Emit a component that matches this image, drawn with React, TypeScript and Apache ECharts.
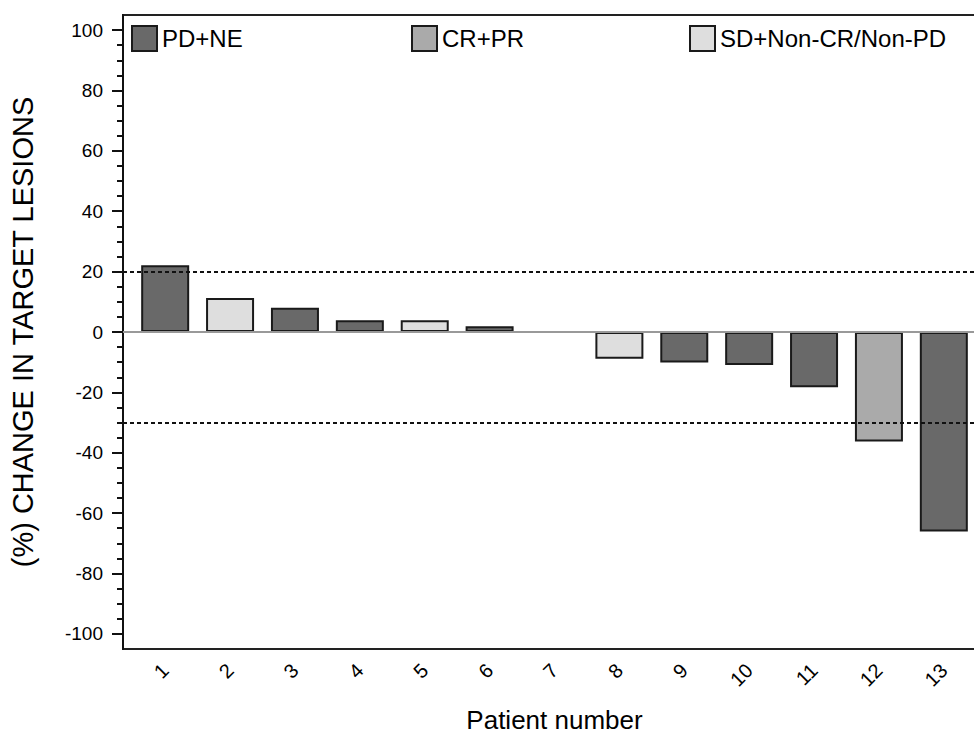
import React, { useEffect, useRef } from "react";
import * as echarts from "echarts";

const patients = [1, 2, 3, 4, 5, 6, 7, 8, 9, 10, 11, 12, 13];
const pdNe = [22.1, null, 8.0, 3.9, null, 1.9, 0, null, -10.1, -10.9, -18.3, null, -66.1];
const crPr = [null, null, null, null, null, null, null, null, null, null, null, -36.3, null];
const sdNon = [null, 11.3, null, null, 3.9, null, null, -8.9, null, null, null, null, null];
const majorTicks = [-100, -80, -60, -40, -20, 0, 20, 40, 60, 80, 100];
const minorStep = 5;
const refLines = [20, -30];
const zeroLine = 0;

const FONT = "'Liberation Sans', Arial, sans-serif";

export default function App() {
  const ref = useRef<HTMLDivElement>(null);
  useEffect(() => {
    if (!ref.current) return;
    const chart = echarts.init(ref.current, undefined, { renderer: "svg" });
    const minorTicks: number[] = [];
    for (let v = majorTicks[0]; v <= majorTicks[majorTicks.length - 1]; v += minorStep) minorTicks.push(v);
    const toData = (arr: (number | null)[]) => patients.map((p, i) => [p, arr[i]]);
    const legendBase = {
      top: 25,
      itemWidth: 25,
      itemHeight: 25,
      padding: 0,
      icon: "rect",
      selectedMode: false,
      textStyle: { fontSize: 24, color: "#000", fontFamily: FONT },
    };
    const barBorder = { borderColor: "#1a1a1a", borderWidth: 2 };
    chart.setOption({
      animation: false,
      backgroundColor: "#fff",
      textStyle: { fontFamily: FONT },
      legend: [
        { ...legendBase, left: 131, data: ["PD+NE"] },
        { ...legendBase, left: 411, data: ["CR+PR"] },
        { ...legendBase, left: 689, data: ["SD+Non-CR/Non-PD"] },
      ],
      grid: {
        left: 123,
        top: 15,
        width: 863,
        height: 634,
        show: true,
        borderColor: "#222",
        borderWidth: 2,
        backgroundColor: "transparent",
        containLabel: false,
        outerBoundsMode: "none",
      },
      xAxis: {
        type: "value",
        min: 0.35,
        max: 13.65,
        axisLine: { show: false },
        axisTick: { show: false },
        splitLine: { show: false },
        axisLabel: {
          customValues: patients,
          rotate: 45,
          margin: 18,
          fontSize: 20,
          color: "#000",
          fontFamily: FONT,
          hideOverlap: false,
          formatter: (v: number) => String(v),
        },
        name: "Patient number",
        nameLocation: "middle",
        nameGap: 58,
        nameTextStyle: { fontSize: 26, color: "#000", fontFamily: FONT },
      },
      yAxis: [
        {
          type: "value",
          min: -105,
          max: 105,
          position: "left",
          axisLine: { show: true, lineStyle: { color: "#111", width: 2 } },
          axisTick: { show: true, customValues: majorTicks, length: 11, lineStyle: { color: "#111", width: 2 } },
          axisLabel: { customValues: majorTicks, margin: 20, fontSize: 19, color: "#000", fontFamily: FONT },
          splitLine: { show: false },
          name: "(%) CHANGE IN TARGET LESIONS",
          nameLocation: "middle",
          nameGap: 86,
          nameTextStyle: { fontSize: 29, color: "#000", fontFamily: FONT },
        },
        {
          type: "value",
          min: -105,
          max: 105,
          position: "left",
          axisLine: { show: false },
          axisTick: { show: true, customValues: minorTicks, length: 6, lineStyle: { color: "#111", width: 2 } },
          axisLabel: { show: false },
          splitLine: { show: false },
        },
      ],
      series: [
        {
          name: "PD+NE",
          type: "bar",
          stack: "all",
          barWidth: 48,
          yAxisIndex: 0,
          data: toData(pdNe),
          itemStyle: { color: "#696969", ...barBorder },
          markLine: {
            silent: true,
            symbol: "none",
            label: { show: false },
            data: [
              ...refLines.map((y) => ({ yAxis: y, lineStyle: { type: [4, 3], color: "#111", width: 2 } })),
              { yAxis: zeroLine, lineStyle: { type: "solid", color: "#999", width: 2 } },
            ],
          },
        },
        {
          name: "CR+PR",
          type: "bar",
          stack: "all",
          barWidth: 48,
          yAxisIndex: 0,
          data: toData(crPr),
          itemStyle: { color: "#aaaaaa", ...barBorder },
        },
        {
          name: "SD+Non-CR/Non-PD",
          type: "bar",
          stack: "all",
          barWidth: 48,
          yAxisIndex: 0,
          data: toData(sdNon),
          itemStyle: { color: "#dedede", ...barBorder },
        },
      ],
    });
    return () => chart.dispose();
  }, []);
  return (
    <div
      ref={ref}
      style={{ position: "fixed", left: 0, top: 0, width: 1000, height: 735 }}
    />
  );
}
